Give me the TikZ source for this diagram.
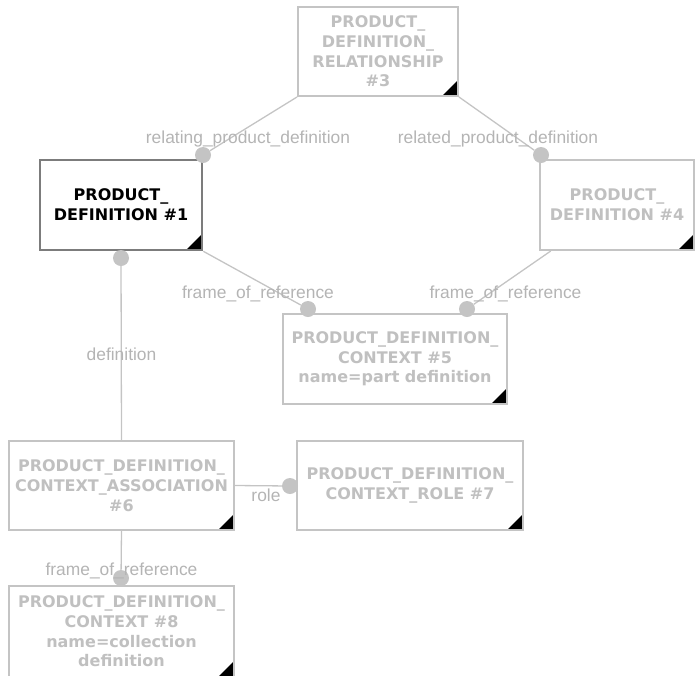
\documentclass[tikz,border=0pt]{standalone}
\usepackage{fontspec}
\setmainfont{Liberation Sans}
\newfontfamily\entityfont{DejaVu Sans}
\definecolor{boxline}{HTML}{C4C4C4}
\definecolor{boxtext}{HTML}{C0C0C0}
\definecolor{linkgray}{HTML}{C4C4C4}
\definecolor{labelgray}{HTML}{B4B4B4}
\definecolor{focusline}{HTML}{7C7C7C}
\begin{document}
\begin{tikzpicture}[x=1pt,y=-1pt,
  entity/.style={draw=boxline, line width=2pt, fill=white, inner sep=0pt,
    align=center, text=boxtext,
    font=\entityfont\bfseries\fontsize{16}{19.7}\selectfont,
    path picture={\fill[black]
      ([xshift=-1pt,yshift=1pt]path picture bounding box.south east)
      -- ++(-14,0) -- ++(14,-14) -- cycle;}},
  focus/.style={entity, draw=focusline, line width=2.5pt, text=black},
  dot/.style={circle, fill=linkgray, draw=none, minimum size=16pt, inner sep=0pt},
  link/.style={draw=linkgray, line width=1.3pt},
  role/.style={text=labelgray, font=\fontsize{17.4}{20}\selectfont, anchor=base, inner sep=0pt}]
\useasboundingbox (0,0) rectangle (695,675);

% entities
\node[entity, minimum width=160pt, minimum height=89pt] (r3) at (378,51.5)
  {PRODUCT\_\\DEFINITION\_\\RELATIONSHIP\\\#3};
\node[focus, minimum width=162pt, minimum height=90pt] (r1) at (121,205)
  {PRODUCT\_\\DEFINITION \#1};
\node[entity, minimum width=154pt, minimum height=90pt] (r4) at (617,205)
  {PRODUCT\_\\DEFINITION \#4};
\node[entity, minimum width=224pt, minimum height=90pt] (r5) at (395,359)
  {PRODUCT\_DEFINITION\_\\CONTEXT \#5\\name=part definition};
\node[entity, minimum width=225pt, minimum height=89pt] (r6) at (121.5,485.5)
  {PRODUCT\_DEFINITION\_\\CONTEXT\_ASSOCIATION\\\#6};
\node[entity, minimum width=226pt, minimum height=89pt] (r7) at (410,485.5)
  {PRODUCT\_DEFINITION\_\\CONTEXT\_ROLE \#7};
\node[entity, minimum width=225pt, minimum height=91pt] (r8) at (121.5,631.5)
  {PRODUCT\_DEFINITION\_\\CONTEXT \#8\\name=collection\\definition};

% attribute end dots
\node[dot] (d1) at (203,155) {};
\node[dot] (d2) at (541,155) {};
\node[dot] (d3) at (308,309) {};
\node[dot] (d4) at (467,309) {};
\node[dot] (d5) at (121,258) {};
\node[dot] (d6) at (290,486) {};
\node[dot] (d7) at (121,578) {};

% relationships
\draw[link] (r3.south west) -- (d1);
\draw[link] (r3.south east) -- (d2);
\draw[link] (r1.south east) -- (d3);
\draw[link] (r4) -- (d4);
\draw[link] (r6.north) -- (d5);
\draw[link] (r6.east) -- (d6);
\draw[link] (r6.south) -- (d7);

% attribute names
\node[role] (l1) at (248,143) {relating\_product\_definition};
\node[role] (l2) at (498,143) {related\_product\_definition};
\node[role] (l3) at (258,298) {frame\_of\_reference};
\node[role] (l4) at (505.5,298) {frame\_of\_reference};
\node[role] (l5) at (121.5,360) {definition};
\node[role] (l6) at (266,501) {role};
\node[role] (l7) at (121.5,575) {frame\_of\_reference};
\end{tikzpicture}
\end{document}
